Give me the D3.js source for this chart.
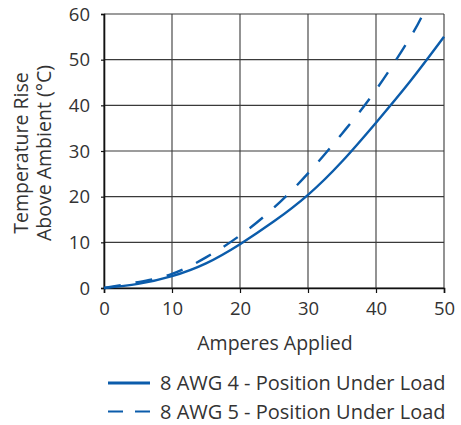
<!DOCTYPE html>
<html>
<head>
<meta charset="utf-8">
<script src="https://cdn.jsdelivr.net/npm/d3@7"></script>
<style>
  body { margin: 0; background: #fff; }
  text { font-family: "Open Sans", sans-serif; fill: #333; }
</style>
</head>
<body>
<svg></svg>
<script>
let amps4 = [0, 5, 10, 15, 20, 25, 30, 35, 40, 45, 50]
let rise4 = [0, 0.9, 2.6, 5.4, 9.6, 14.6, 20.4, 27.7, 36.2, 45.2, 55]
let amps5 = [0, 5, 10, 15, 20, 25, 30, 35, 40, 45, 46.9]
let rise5 = [0, 1.3, 3.1, 6.7, 11.5, 17.6, 25.1, 33.8, 43.4, 54.8, 60]
let xTicks = [0, 10, 20, 30, 40, 50]
let yTicks = [0, 10, 20, 30, 40, 50, 60]
let seriesNames = ['8 AWG 4 - Position Under Load', '8 AWG 5 - Position Under Load']

let width = 461
let height = 425
let plotLeft = 104, plotRight = 444, plotTop = 14, plotBottom = 288
let blue = '#0b5cab'

let svg = d3.select('svg').attr('width', width).attr('height', height)

let xScale = d3.scaleLinear().domain([0, 50]).range([plotLeft, plotRight])
let yScale = d3.scaleLinear().domain([0, 60]).range([plotBottom, plotTop])

// grid
svg.append('g').selectAll('line').data(xTicks).enter().append('line')
   .attr('x1', d => xScale(d)).attr('x2', d => xScale(d))
   .attr('y1', plotTop).attr('y2', plotBottom)
   .attr('stroke', '#3a3a3a').attr('stroke-width', 1.1)
svg.append('g').selectAll('line').data(yTicks).enter().append('line')
   .attr('x1', plotLeft).attr('x2', plotRight)
   .attr('y1', d => yScale(d)).attr('y2', d => yScale(d))
   .attr('stroke', '#3a3a3a').attr('stroke-width', 1.1)

// axes
let xAxis = d3.axisBottom(xScale).tickValues(xTicks).tickSize(5).tickPadding(9)
let gx = svg.append('g').attr('transform', 'translate(0,' + plotBottom + ')').call(xAxis)
let yAxis = d3.axisLeft(yScale).tickValues(yTicks).tickSize(3).tickPadding(11)
let gy = svg.append('g').attr('transform', 'translate(' + plotLeft + ',0)').call(yAxis)
;[gx, gy].forEach(g => {
    g.select('.domain').attr('stroke', '#111').attr('stroke-width', 1.6)
    g.selectAll('.tick line').attr('stroke', '#111').attr('stroke-width', 1.2)
    g.selectAll('.tick text').style('font-size', '18.5px').style('fill', '#333')
       .style('font-family', '"Open Sans", sans-serif')
})
gy.selectAll('.tick text').attr('dy', '0.33em')

// curves
let line = d3.line().x(d => xScale(d[0])).y(d => yScale(d[1])).curve(d3.curveNatural)
svg.append('path').datum(d3.zip(amps4, rise4))
   .attr('d', line).attr('fill', 'none').attr('stroke', blue).attr('stroke-width', 2.4)
svg.append('path').datum(d3.zip(amps5, rise5))
   .attr('d', line).attr('fill', 'none').attr('stroke', blue).attr('stroke-width', 2.4)
   .attr('stroke-dasharray', '17,15')

// axis titles
svg.append('text').attr('x', 275).attr('y', 350)
   .attr('text-anchor', 'middle').style('font-size', '19.5px').text('Amperes Applied')
let yt = svg.append('text').attr('transform', 'translate(28,153) rotate(-90)')
   .attr('text-anchor', 'middle').style('font-size', '19.5px')
yt.append('tspan').attr('x', 0).attr('dy', 0).text('Temperature Rise')
yt.append('tspan').attr('x', 0).attr('dy', 23).text('Above Ambient (°C)')

// legend
let legend = svg.append('g').selectAll('g').data(seriesNames).enter().append('g')
   .attr('transform', (d, i) => 'translate(0,' + (383 + i * 28.5) + ')')
legend.append('line').attr('x1', 108).attr('x2', 150).attr('y1', 0).attr('y2', 0)
   .attr('stroke', blue).attr('stroke-width', (d, i) => i ? 2 : 3)
   .attr('stroke-dasharray', (d, i) => i ? '15,12' : null)
legend.append('text').attr('x', 160).attr('y', 7).style('font-size', '20px').text(d => d)
</script>
</body>
</html>
